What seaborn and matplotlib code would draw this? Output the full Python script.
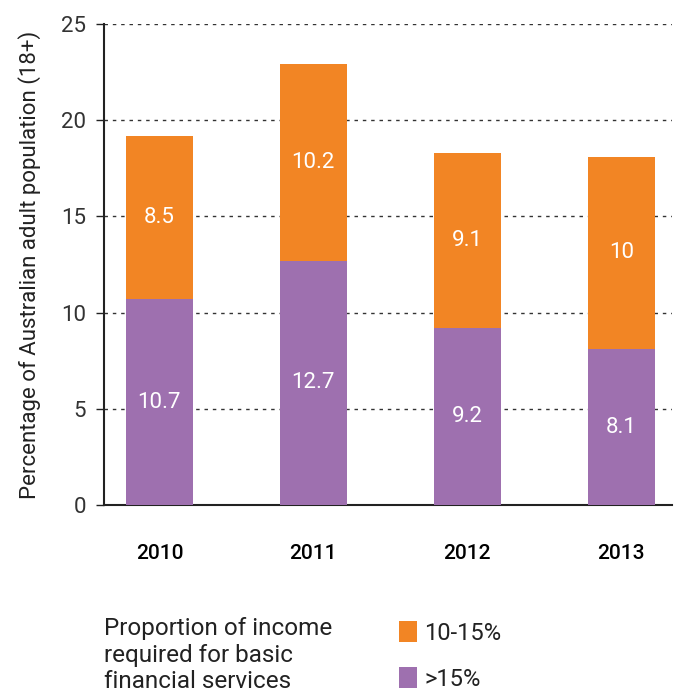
import matplotlib
matplotlib.use("Agg")
import matplotlib.pyplot as plt
import seaborn as sns
import pandas as pd
from matplotlib.patches import Patch

# Share of adults by proportion of income needed for basic financial services
years = ["2010", "2011", "2012", "2013"]
over_15 = [10.7, 12.7, 9.2, 8.1]       # >15% of income
from_10_to_15 = [8.5, 10.2, 9.1, 10.0]  # 10-15% of income
series_labels = ["10-15%", ">15%"]
y_ticks = [0, 5, 10, 15, 20, 25]

ORANGE = "#F28524"
PURPLE = "#9E70AF"

df = pd.DataFrame({"year": years, "over15": over_15, "mid": from_10_to_15})
df["total"] = df["over15"] + df["mid"]

sns.set_theme(style="white")
plt.rcParams["font.family"] = ["Roboto", "DejaVu Sans"]

fig = plt.figure(figsize=(6.86, 6.98), dpi=100)
ax = fig.add_axes([0.1516, 0.2765, 0.828, 0.6891])

# Stacked bars: full total in orange, the >15% part drawn over it in purple
sns.barplot(data=df, x="year", y="total", color=ORANGE, saturation=1,
            width=0.435, linewidth=0, ax=ax, zorder=3)
sns.barplot(data=df, x="year", y="over15", color=PURPLE, saturation=1,
            width=0.435, linewidth=0, ax=ax, zorder=4)

# Segment values in white
for i, row in df.iterrows():
    ax.text(i, row["over15"] / 2, f"{row['over15']:g}", ha="center", va="center",
            color="white", fontsize=16, zorder=5)
    ax.text(i, row["over15"] + row["mid"] / 2, f"{row['mid']:g}", ha="center",
            va="center", color="white", fontsize=16, zorder=5)

ax.set_xlim(-0.36, 3.33)
ax.set_ylim(0, 25)
ax.set_yticks(y_ticks)
ax.set_yticklabels([str(t) for t in y_ticks], color="#333333", fontsize=16)
ax.tick_params(axis="y", length=6, width=1, color="#222222", pad=7, left=True)
ax.tick_params(axis="x", length=0, pad=28, labelsize=15, labelcolor="black")
for lbl in ax.get_xticklabels():
    lbl.set_fontweight("medium")

ax.set_xlabel("")
ax.set_ylabel("Percentage of Australian adult population (18+)", fontsize=16,
              color="#222222", labelpad=14)

# Dotted gridlines above zero
for t in y_ticks[1:]:
    ax.axhline(t, color="#333333", linestyle=(0, (2.5, 3.5)), linewidth=1, zorder=1)

for side in ["top", "right"]:
    ax.spines[side].set_visible(False)
for side in ["left", "bottom"]:
    ax.spines[side].set_color("#222222")
    ax.spines[side].set_linewidth(1.5)

# Legend description and swatches
fig.text(104 / 686, 1 - 617 / 698,
         "Proportion of income\nrequired for basic\nfinancial services",
         ha="left", va="top", fontsize=17.5, color="#222222", linespacing=1.2)
handles = [Patch(facecolor=ORANGE, edgecolor="none"),
           Patch(facecolor=PURPLE, edgecolor="none")]
fig.legend(handles, series_labels, loc="upper left",
           bbox_to_anchor=(378 / 686, 1 - 600 / 698), frameon=False,
           fontsize=17, handlelength=0.75, handleheight=1.0,
           handletextpad=0.3, labelspacing=0.95, labelcolor="#222222")

fig.savefig("out.png", dpi=100)
